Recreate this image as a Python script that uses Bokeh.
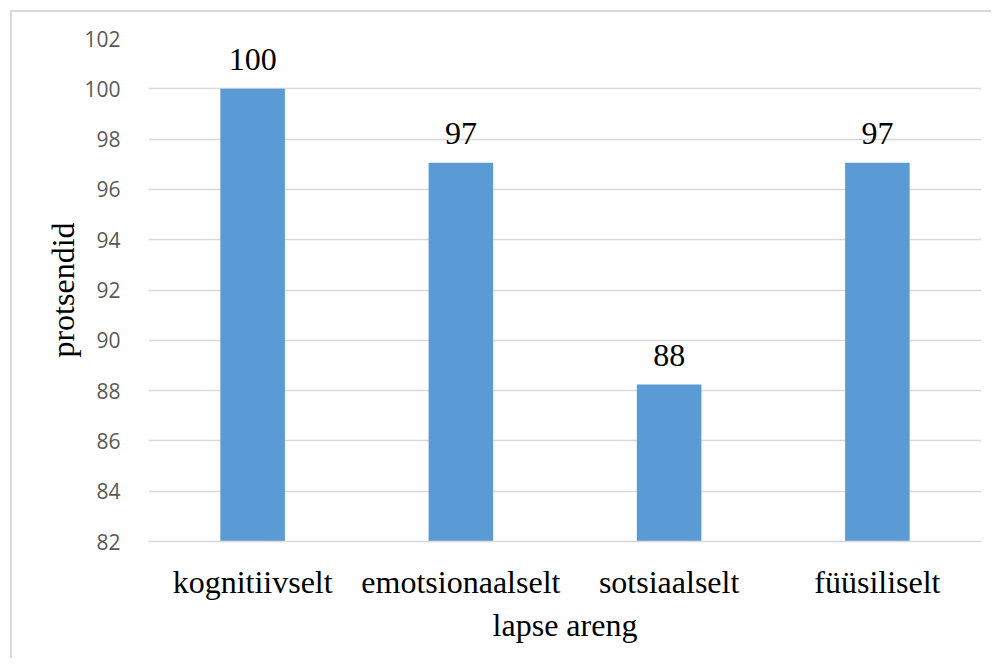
from bokeh.plotting import figure
from bokeh.models import ColumnDataSource, LabelSet, FixedTicker, Range1d, FactorRange
from bokeh.embed import file_html
from bokeh.resources import INLINE

categories = ["kognitiivselt", "emotsionaalselt", "sotsiaalselt", "füüsiliselt"]
values = [100.0, 97.06, 88.24, 97.06]
value_labels = ["100", "97", "88", "97"]
y_ticks = [82, 84, 86, 88, 90, 92, 94, 96, 98, 100, 102]

src = ColumnDataSource(dict(cat=categories, val=values, lab=value_labels))

p = figure(x_range=FactorRange(*categories, range_padding=0), y_range=Range1d(82, 102),
           width=991, height=658, output_backend="svg", toolbar_location=None,
           min_border_left=148, min_border_right=10, min_border_top=38, min_border_bottom=117)
p.outline_line_color = None
p.background_fill_color = "white"
p.border_fill_color = None
p.styles = {
    "background": "linear-gradient(#d9d9d9, #d9d9d9) 10px 10px / 2px 100% no-repeat, "
                  "linear-gradient(#d9d9d9, #d9d9d9) 10px 10px / 100% 2px no-repeat, white"
}

p.vbar(x="cat", top="val", bottom=82, width=0.31, source=src, fill_color="#5B9BD5", line_color=None)

labels = LabelSet(x="cat", y="val", text="lab", source=src, text_align="center",
                  text_baseline="alphabetic", y_offset=19, text_font="Liberation Serif",
                  text_font_size="32px", text_color="#000000")
p.add_layout(labels)

p.yaxis.ticker = FixedTicker(ticks=y_ticks)
p.ygrid.ticker = FixedTicker(ticks=y_ticks)
p.ygrid.grid_line_color = "#d9d9d9"
p.ygrid.grid_line_width = 1.5
p.xgrid.grid_line_color = None

p.yaxis.axis_line_color = None
p.yaxis.major_tick_line_color = None
p.yaxis.minor_tick_line_color = None
p.yaxis.major_label_text_font = "Open Sans"
p.yaxis.major_label_text_font_size = "21px"
p.yaxis.major_label_text_color = "#595959"
p.yaxis.major_label_standoff = 22
p.yaxis.axis_label = "protsendid"
p.yaxis.axis_label_text_font = "Liberation Serif"
p.yaxis.axis_label_text_font_size = "32px"
p.yaxis.axis_label_text_font_style = "normal"
p.yaxis.axis_label_text_color = "#000000"
p.yaxis.axis_label_standoff = 0

p.xaxis.axis_line_color = "#d9d9d9"
p.xaxis.axis_line_width = 1.5
p.xaxis.major_tick_line_color = None
p.xaxis.minor_tick_line_color = None
p.xaxis.major_label_text_font = "Liberation Serif"
p.xaxis.major_label_text_font_size = "32px"
p.xaxis.major_label_text_color = "#000000"
p.xaxis.major_label_standoff = 16
p.xaxis.axis_label = "lapse areng"
p.xaxis.axis_label_text_font = "Liberation Serif"
p.xaxis.axis_label_text_font_size = "32px"
p.xaxis.axis_label_text_font_style = "normal"
p.xaxis.axis_label_text_color = "#000000"
p.xaxis.axis_label_standoff = 4

open("out.html", "w").write(file_html(p, INLINE))
